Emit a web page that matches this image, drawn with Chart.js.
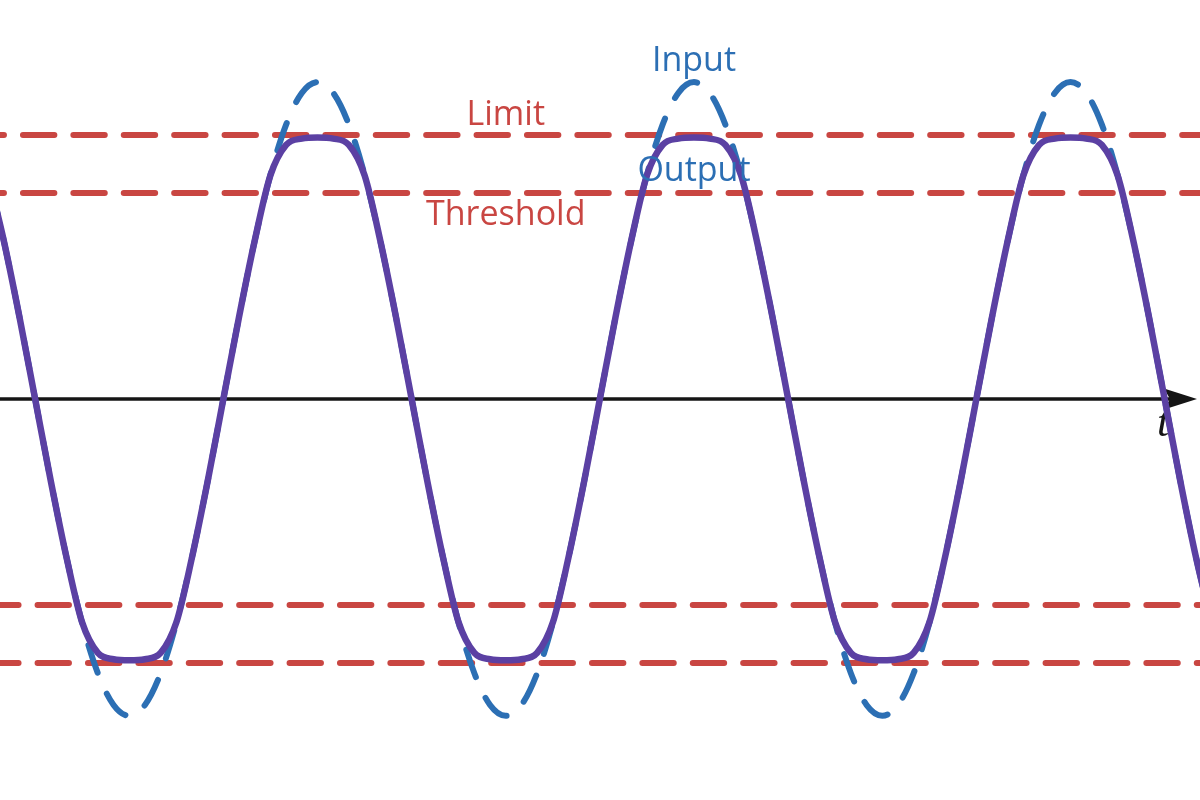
<!DOCTYPE html>
<html><head><meta charset="utf-8">
<script src="https://cdn.jsdelivr.net/npm/chart.js@4.4.1/dist/chart.umd.min.js"></script>
<style>html,body{margin:0;padding:0;background:#fff;}canvas{display:block}</style>
</head><body>
<canvas id="c" width="1200" height="800"></canvas>
<script>
// sample positions along the time axis (arbitrary units)
const tValues = [3,4,5,6,7,8,9,10,11,12,13,14,15,16,17,18,19,20,21,22,23,
  24,25,26,27,28,29,30,31,32,33,34,35,36,37,38,39,40,41,42,43,44,45,46,47,
  48,49,50,51,52,53,54,55,56,57,58,59,60,61,62,63,64,65,66,67,68,69,70,71,
  72,73,74,75,76,77,78,79,80,81];
// input signal (dashed blue)
const inputValues = [0.849,0.6,0.311,0,-0.311,-0.6,-0.849,-1.039,-1.159,-1.2,-1.159,-1.039,-0.849,-0.6,-0.311,0,0.311,0.6,0.849,1.039,1.159,
  1.2,1.159,1.039,0.849,0.6,0.311,0,-0.311,-0.6,-0.849,-1.039,-1.159,-1.2,-1.159,-1.039,-0.849,-0.6,-0.311,0,0.311,0.6,0.849,1.039,1.159,
  1.2,1.159,1.039,0.849,0.6,0.311,0,-0.311,-0.6,-0.849,-1.039,-1.159,-1.2,-1.159,-1.039,-0.849,-0.6,-0.311,0,0.311,0.6,0.849,1.039,1.159,
  1.2,1.159,1.039,0.849,0.6,0.311,0,-0.311,-0.6,-0.849];
// soft-clipped output (solid purple)
const outputValues = [0.847,0.6,0.311,0,-0.311,-0.6,-0.847,-0.962,-0.986,-0.99,-0.986,-0.962,-0.847,-0.6,-0.311,0,0.311,0.6,0.847,0.962,0.986,
  0.99,0.986,0.962,0.847,0.6,0.311,0,-0.311,-0.6,-0.847,-0.962,-0.986,-0.99,-0.986,-0.962,-0.847,-0.6,-0.311,0,0.311,0.6,0.847,0.962,0.986,
  0.99,0.986,0.962,0.847,0.6,0.311,0,-0.311,-0.6,-0.847,-0.962,-0.986,-0.99,-0.986,-0.962,-0.847,-0.6,-0.311,0,0.311,0.6,0.847,0.962,0.986,
  0.99,0.986,0.962,0.847,0.6,0.311,0,-0.311,-0.6,-0.847];
const limitLevels = [1.0, -1.0];
const thresholdLevels = [0.78, -0.78];
const textLabels = ['Input', 'Output', 'Limit', 'Threshold'];
const axisLabel = 't';

const BLUE = '#2c6fb4', PURPLE = '#5b40a3', RED = '#c94642';
const tFirst = tValues[0], tLast = tValues[tValues.length - 1];

function pts(ys) { return tValues.map((t, i) => ({x: t, y: ys[i]})); }
function hline(v) { return [{x: tFirst, y: v}, {x: tLast, y: v}]; }

const datasets = [
  {label: 'Output', data: pts(outputValues), borderColor: PURPLE, borderWidth: 6.5,
   cubicInterpolationMode: 'monotone', borderCapStyle: 'round', borderJoinStyle: 'round'},
  {label: 'Input', data: pts(inputValues), borderColor: BLUE, borderWidth: 6,
   cubicInterpolationMode: 'monotone', borderDash: [29, 23], borderDashOffset: 39, borderCapStyle: 'round'},
];
limitLevels.concat(thresholdLevels).forEach((v) => {
  datasets.push({label: v > 0 ? 'upper' : 'lower', data: hline(v), borderColor: RED, borderWidth: 6,
    borderDash: [31.4, 19], borderDashOffset: v > 0 ? 15.5 : 0.9, borderCapStyle: 'round'});
});

// label anchors in data units
const labelSpots = [
  {text: textLabels[0], x: 48, y: 1.243, color: BLUE},
  {text: textLabels[1], x: 48, y: 0.826, color: BLUE},
  {text: textLabels[2], x: 36, y: 1.038, color: RED},
  {text: textLabels[3], x: 36, y: 0.659, color: RED},
];

const axisPlugin = {
  id: 'axis',
  beforeDatasetsDraw(chart) {
    const ctx = chart.ctx, ys = chart.scales.y, a = chart.chartArea;
    const y0 = ys.getPixelForValue(0);
    const tip = a.right - 3;
    ctx.save();
    ctx.strokeStyle = '#151515'; ctx.lineWidth = 3.5;
    ctx.beginPath(); ctx.moveTo(a.left, y0); ctx.lineTo(tip - 20, y0); ctx.stroke();
    ctx.fillStyle = '#151515';
    ctx.beginPath();
    ctx.moveTo(tip, y0);
    ctx.lineTo(tip - 33, y0 - 10.5);
    ctx.lineTo(tip - 27, y0);
    ctx.lineTo(tip - 33, y0 + 10.5);
    ctx.closePath(); ctx.fill();
    ctx.font = 'italic 44px "Liberation Serif"';
    ctx.textAlign = 'center'; ctx.textBaseline = 'alphabetic';
    ctx.fillText(axisLabel, tip - 34, y0 + 37);
    ctx.restore();
  },
  afterDatasetsDraw(chart) {
    const ctx = chart.ctx, xs = chart.scales.x, ys = chart.scales.y;
    ctx.save();
    ctx.font = '34px "Open Sans"';
    ctx.textAlign = 'center'; ctx.textBaseline = 'alphabetic';
    labelSpots.forEach((l) => {
      ctx.fillStyle = l.color;
      ctx.fillText(l.text, xs.getPixelForValue(l.x), ys.getPixelForValue(l.y));
    });
    ctx.restore();
  }
};

new Chart(document.getElementById('c'), {
  type: 'line',
  data: {datasets},
  options: {
    responsive: false, animation: false,
    layout: {padding: 0},
    elements: {point: {radius: 0, hoverRadius: 0}},
    plugins: {legend: {display: false}, tooltip: {enabled: false}},
    scales: {
      x: {type: 'linear', display: false, min: 3.761, max: 80.255},
      y: {type: 'linear', display: false, min: -1.519, max: 1.511}
    }
  },
  plugins: [axisPlugin]
});
</script>
</body></html>
